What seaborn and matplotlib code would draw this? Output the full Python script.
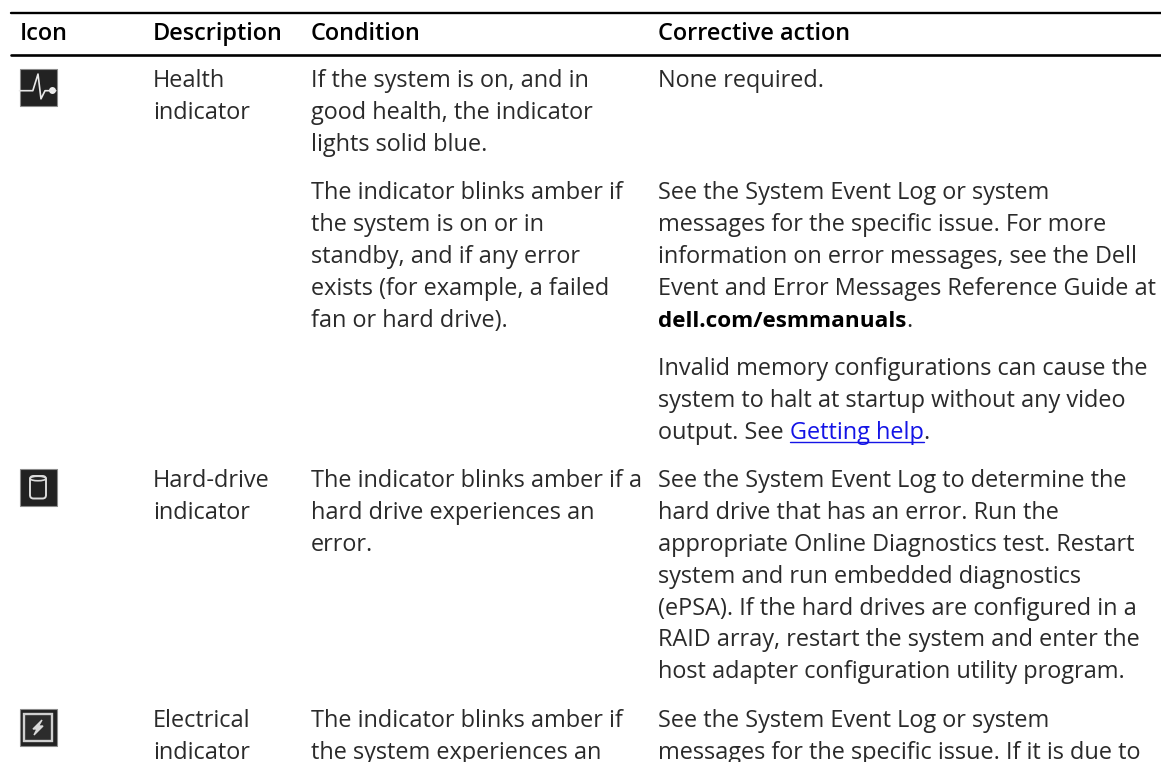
import matplotlib
matplotlib.use("Agg")
import matplotlib.pyplot as plt
import seaborn as sns
import pandas as pd
from matplotlib.patches import Rectangle, FancyBboxPatch, Ellipse, Polygon

headers = ["Icon", "Description", "Condition", "Corrective action"]

health_desc = ["Health", "indicator"]
health_cond = ["If the system is on, and in", "good health, the indicator", "lights solid blue."]
health_action = ["None required."]
amber_cond = ["The indicator blinks amber if", "the system is on or in", "standby, and if any error",
              "exists (for example, a failed", "fan or hard drive)."]
amber_action = ["See the System Event Log or system", "messages for the specific issue. For more",
                "information on error messages, see the Dell", "Event and Error Messages Reference Guide at"]
amber_bold = "dell.com/esmmanuals"
memory_action = ["Invalid memory configurations can cause the", "system to halt at startup without any video"]
memory_prefix = "output. See "
memory_link = "Getting help"
drive_desc = ["Hard-drive", "indicator"]
drive_cond = ["The indicator blinks amber if a", "hard drive experiences an", "error."]
drive_action = ["See the System Event Log to determine the", "hard drive that has an error. Run the",
                "appropriate Online Diagnostics test. Restart", "system and run embedded diagnostics",
                "(ePSA). If the hard drives are configured in a", "RAID array, restart the system and enter the",
                "host adapter configuration utility program."]
elec_desc = ["Electrical", "indicator"]
elec_cond = ["The indicator blinks amber if", "the system experiences an"]
elec_action = ["See the System Event Log or system", "messages for the specific issue. If it is due to"]

# heartbeat trace, as fractions of the icon box
pulse_x = [0.0, 0.36, 0.50, 0.58, 0.69, 0.98]
pulse_y = [0.60, 0.60, 0.15, 0.82, 0.60, 0.60]

INK = "#2a2a2a"
FS = 16.9
LINE = 31.9
COLS = [20, 153, 311, 658]

sns.set_theme(style="white")
plt.rcParams["font.family"] = ["Open Sans", "DejaVu Sans"]

fig = plt.figure(figsize=(11.61, 7.62), dpi=100)
ax = fig.add_axes([0, 0, 1, 1])
ax.set_xlim(0, 1161)
ax.set_ylim(762, 0)
ax.axis("off")
sns.despine(ax=ax, left=True, bottom=True)


def put_lines(lines, col, first):
    for i, s in enumerate(lines):
        ax.text(COLS[col], first + i * LINE, s, fontsize=FS, color=INK, va="baseline", ha="left")


def draw_rule(y, lw):
    rule = pd.DataFrame({"x": [11, 1161], "y": [y, y]})
    sns.lineplot(data=rule, x="x", y="y", color="black", linewidth=lw, ax=ax, legend=False)


def icon_box(top):
    ax.add_patch(Rectangle((19.5, top), 37, 37, facecolor="#222222", edgecolor="#8a8a8a", linewidth=0.8))


def text_end(t):
    fig.canvas.draw()
    bb = t.get_window_extent()
    return ax.transData.inverted().transform((bb.x1, bb.y0))[0]


draw_rule(12.5, 1.7)
draw_rule(55, 1.9)

for x, h in zip(COLS, headers):
    ax.text(x, 40, h, fontsize=FS, fontweight="semibold", color="black", va="baseline", ha="left")

put_lines(health_desc, 1, 87)
put_lines(health_cond, 2, 87)
put_lines(health_action, 3, 87)
put_lines(amber_cond, 2, 199)
put_lines(amber_action, 3, 199)

bold_y = 199 + 4 * LINE
t = ax.text(COLS[3], bold_y, amber_bold, fontsize=16.2, fontweight="bold", color="black", va="baseline")
ax.text(text_end(t), bold_y, ".", fontsize=FS, color=INK, va="baseline")

put_lines(memory_action, 3, 375)
mem_y = 375 + 2 * LINE
t = ax.text(COLS[3], mem_y, memory_prefix, fontsize=FS, color=INK, va="baseline")
x0 = text_end(t)
t = ax.text(x0, mem_y, memory_link, fontsize=FS, color="#1414e6", va="baseline")
x1 = text_end(t)
ax.plot([x0, x1], [mem_y + 3, mem_y + 3], color="#1414e6", linewidth=1.0)
ax.text(x1, mem_y, ".", fontsize=FS, color=INK, va="baseline")

put_lines(drive_desc, 1, 487)
put_lines(drive_cond, 2, 487)
put_lines(drive_action, 3, 487)
put_lines(elec_desc, 1, 727)
put_lines(elec_cond, 2, 727)
put_lines(elec_action, 3, 727)

# health icon
icon_box(68.5)
trace = pd.DataFrame({"x": [19.5 + 37 * v for v in pulse_x], "y": [68.5 + 37 * v for v in pulse_y]})
sns.lineplot(data=trace, x="x", y="y", sort=False, estimator=None, color="#e8e8e8", linewidth=1.2, ax=ax, legend=False)
ax.add_patch(Ellipse((52.5, 90.5), 5.5, 5.5, color="#f0f0f0"))

# hard drive icon
icon_box(468.5)
ax.add_patch(FancyBboxPatch((30, 476), 16, 22.5, boxstyle="round,pad=0,rounding_size=3.5",
                            facecolor="none", edgecolor="#dcdcdc", linewidth=1.4))
ax.add_patch(Ellipse((38, 478.5), 16, 4.5, facecolor="#222222", edgecolor="#dcdcdc", linewidth=1.2))

# electrical icon
icon_box(708.5)
ax.add_patch(Rectangle((24, 713.5), 28, 27, facecolor="#2c2c2c", edgecolor="#cfcfcf", linewidth=1.7))
ax.add_patch(Polygon([(42, 720), (33, 729), (37, 729), (34, 735), (43, 726), (38.5, 726)], color="#d8d8d8"))

ax.set_xlabel("")
ax.set_ylabel("")
fig.savefig("out.png", dpi=100)
